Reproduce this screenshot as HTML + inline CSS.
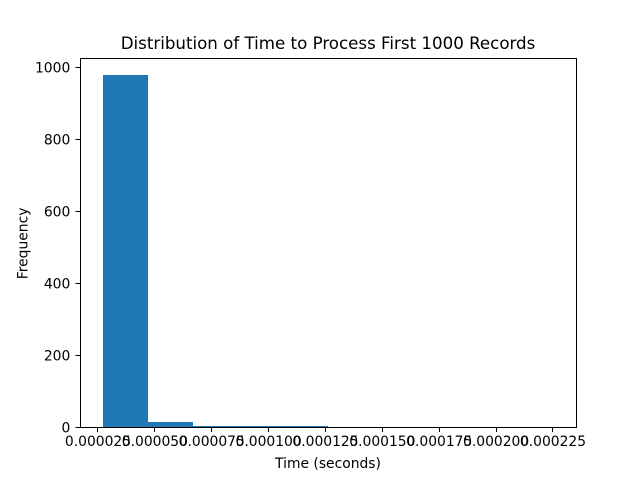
<!DOCTYPE html>
<html>
<head>
<meta charset="utf-8">
<title>Distribution of Time to Process First 1000 Records</title>
<style>
html,body{margin:0;padding:0;background:#fff;}
svg{display:block;}
text{font-family:"DejaVu Sans","Liberation Sans",sans-serif;fill:#000;}
</style>
</head>
<body>
<svg id="chart" xmlns="http://www.w3.org/2000/svg" width="640" height="480" viewBox="0 0 640 480">
<rect x="0" y="0" width="640" height="480" fill="#ffffff"/>
<g id="bars" shape-rendering="crispEdges"></g>
<g id="xticks"></g>
<g id="yticks"></g>
<rect x="80.5" y="58.5" width="496" height="369" fill="none" stroke="#000" stroke-width="1" shape-rendering="crispEdges"/>
<text x="328" y="49" font-size="16.67" text-anchor="middle">Distribution of Time to Process First 1000 Records</text>
<text x="328" y="468" font-size="13.89" text-anchor="middle">Time (seconds)</text>
<text transform="translate(27.5,243.4) rotate(-90)" font-size="13.89" text-anchor="middle">Frequency</text>
</svg>
<script>
const binCounts = [977, 15, 3, 2, 2, 0, 0, 0, 0, 1];
const binStart = 0.000027;
const binEnd = 0.0002252;
const xTickValues = [0.000025, 0.00005, 0.000075, 0.0001, 0.000125, 0.00015, 0.000175, 0.0002, 0.000225];
const xTickLabels = ["0.000025", "0.000050", "0.000075", "0.000100", "0.000125", "0.000150", "0.000175", "0.000200", "0.000225"];
const yTickValues = [0, 200, 400, 600, 800, 1000];
const yTickLabels = ["0", "200", "400", "600", "800", "1000"];

const NS = "http://www.w3.org/2000/svg";
const plot = {left: 80, right: 576, top: 57.6, bottom: 427.2};
const span = binEnd - binStart;
const xMin = binStart - span * 0.05;
const xMax = binEnd + span * 0.05;
const yMax = Math.max.apply(null, binCounts) * 1.05;
function xScale(v) {
  return plot.left + (v - xMin) / (xMax - xMin) * (plot.right - plot.left);
}
function yScale(v) {
  return plot.bottom - v / yMax * (plot.bottom - plot.top);
}
function make(tag, attrs, parent) {
  const el = document.createElementNS(NS, tag);
  for (const k in attrs) el.setAttribute(k, attrs[k]);
  parent.appendChild(el);
  return el;
}
const barsG = document.getElementById("bars");
const binWidth = span / binCounts.length;
binCounts.forEach(function (count, i) {
  const x0 = Math.round(xScale(binStart + i * binWidth));
  const x1 = Math.round(xScale(binStart + (i + 1) * binWidth));
  const y = Math.round(yScale(count));
  const bar = make("rect", {x: x0, y: y, width: x1 - x0, height: Math.round(plot.bottom) - y, fill: "#1f77b4"}, barsG);
  
  
});
const xG = document.getElementById("xticks");
xTickValues.forEach(function (v, i) {
  const x = xScale(v);
  const px = Math.floor(x) + 0.5;
  const tick = make("line", {x1: px, x2: px, y1: 427.5, y2: 432, stroke: "#000", "stroke-width": 1, "shape-rendering": "crispEdges"}, xG);
  
  
  const label = make("text", {x: x, y: 446, "font-size": 13.89, "text-anchor": "middle"}, xG);
  label.textContent = xTickLabels[i];
  
  
});
const yG = document.getElementById("yticks");
yTickValues.forEach(function (v, i) {
  const y = yScale(v);
  const py = Math.round(y) + 0.5;
  const tick = make("line", {x1: 75.5, x2: 80.5, y1: py, y2: py, stroke: "#000", "stroke-width": 1, "shape-rendering": "crispEdges"}, yG);
  
  
  const label = make("text", {x: 70.3, y: y + 5.4, "font-size": 13.89, "text-anchor": "end"}, yG);
  label.textContent = yTickLabels[i];
  
  
});
</script>
</body>
</html>
